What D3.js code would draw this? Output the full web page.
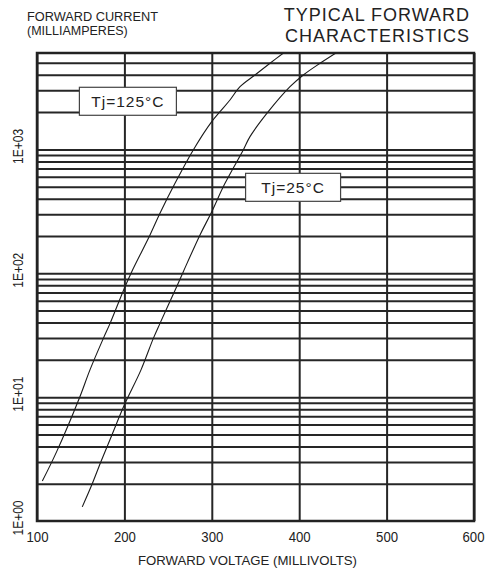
<!DOCTYPE html>
<html>
<head>
<meta charset="utf-8">
<script src="https://cdn.jsdelivr.net/npm/d3@7"></script>
<style>
  body { margin: 0; background: #fff; }
  text { font-family: "Liberation Sans", Arial, sans-serif; fill: #222; }
</style>
</head>
<body>
<div id="chart"></div>
<script>
// forward voltage (mV) and forward current (mA)
var volts125 = [106.1, 122.5, 148.4, 160.6, 175.9, 183.6, 200.7, 208.4, 229.3, 240.7, 257.9, 278.8, 299.9, 309.4, 320.8, 332.3, 349.4, 366.6, 382];
var amps125 = [2.1, 3.63, 9.79, 16.6, 29.8, 39.4, 77.9, 103, 204, 305, 532, 989, 1674, 2015, 2505, 3207, 3988, 4955, 6000];
var volts25 = [151.8, 162.6, 173.1, 185.7, 199.9, 219.0, 233.1, 240.7, 259.8, 267.4, 286.5, 299.1, 315.1, 336.0, 343.7, 364.6, 389.5, 404.7, 423.8, 442];
var amps25 = [1.3, 1.95, 3.01, 4.95, 8.64, 16.6, 29.8, 39.4, 77.9, 103, 204, 305, 532, 989, 1267, 2015, 3207, 3988, 4955, 6000];

var xTicks = [100, 200, 300, 400, 500, 600];
var decades = [1, 10, 100, 1000];
var decadeLabels = ["1E+00", "1E+01", "1E+02", "1E+03"];

var curveLabels = ["Tj=125°C", "Tj=25°C"];
var labelVolts = [204, 393];
var labelAmps = [2445, 494];

var width = 487, height = 571;
var mLeft = 37, mRight = 474, mTop = 53, mBottom = 521;

var svg = d3.select("#chart").append("svg")
    .attr("width", width)
    .attr("height", height);

svg.append("rect").attr("width", width).attr("height", height).attr("fill", "#fff");

var x = d3.scaleLinear().domain([100, 600]).range([mLeft, mRight]);
var y = d3.scaleLog().domain([1, 6000]).range([mBottom, mTop]);

// horizontal log grid lines
var gridValues = [];
decades.forEach(function(d){
    for(var k = 1; k <= 9; k++){
        var v = d * k;
        if(v > 1 && v < 6000) gridValues.push(v);
    }
});

svg.append("g")
    .attr("transform", "translate(" + mLeft + ",0)")
    .call(d3.axisLeft(y).tickValues(gridValues).tickSize(-(mRight - mLeft)).tickFormat(""))
    .call(function(g){
        g.select(".domain").remove();
        g.selectAll("line").attr("stroke", "#262626").attr("stroke-width", 2);
    });

// vertical grid + tick labels
svg.append("g")
    .attr("transform", "translate(0," + mBottom + ")")
    .call(d3.axisBottom(x).tickValues(xTicks).tickSize(-(mBottom - mTop)).tickPadding(0))
    .call(function(g){
        g.select(".domain").remove();
        g.selectAll("line").attr("stroke", "#262626").attr("stroke-width", 2);
        g.selectAll("text")
            .attr("y", 21)
            .attr("dy", 0)
            .attr("font-size", 15)
            .attr("textLength", 22)
            .attr("lengthAdjust", "spacingAndGlyphs")
            .style("font-family", "'Liberation Sans', Arial, sans-serif")
            .attr("fill", "#222");
        g.selectAll(".tick").filter(function(d){ return d === 600; })
            .select("text").attr("x", -1);
    });

// plot border
svg.append("rect")
    .attr("x", mLeft).attr("y", mTop)
    .attr("width", mRight - mLeft).attr("height", mBottom - mTop)
    .attr("fill", "none")
    .attr("stroke", "#222")
    .attr("stroke-width", 2.5);

// decade labels on the y side
svg.selectAll(".ylab")
    .data(decades)
    .enter().append("text")
    .attr("class", "ylab")
    .attr("transform", function(d){ return "translate(23," + (y(d) - 3) + ") rotate(-90)"; })
    .attr("text-anchor", "middle")
    .attr("font-size", 15)
    .attr("textLength", 35)
    .attr("lengthAdjust", "spacingAndGlyphs")
    .text(function(d, i){ return decadeLabels[i]; });

// curves
svg.append("clipPath").attr("id", "plotclip")
    .append("rect")
    .attr("x", mLeft).attr("y", mTop)
    .attr("width", mRight - mLeft).attr("height", mBottom - mTop);

var line = d3.line()
    .x(function(d){ return x(d[0]); })
    .y(function(d){ return y(d[1]); })
    .curve(d3.curveCatmullRom.alpha(0.5));

[[volts125, amps125], [volts25, amps25]].forEach(function(s){
    svg.append("path")
        .datum(d3.zip(s[0], s[1]))
        .attr("clip-path", "url(#plotclip)")
        .attr("d", line)
        .attr("fill", "none")
        .attr("stroke", "#1a1a1a")
        .attr("stroke-width", 1.1);
});

// curve labels in boxes
var boxW = [97, 95], boxH = 28;
curveLabels.forEach(function(t, i){
    var cx = x(labelVolts[i]), cy = y(labelAmps[i]);
    svg.append("rect")
        .attr("x", cx - boxW[i] / 2).attr("y", cy - boxH / 2)
        .attr("width", boxW[i]).attr("height", boxH)
        .attr("fill", "#fff")
        .attr("stroke", "#444")
        .attr("stroke-width", 1.2);
    svg.append("text")
        .attr("x", cx).attr("y", cy + 6)
        .attr("text-anchor", "middle")
        .attr("font-size", 15.5)
        .attr("letter-spacing", 1)
        .attr("fill", "#333")
        .text(t);
});

// titles
svg.append("text").attr("x", 470).attr("y", 21)
    .attr("text-anchor", "end").attr("font-size", 18).attr("letter-spacing", 1)
    .text("TYPICAL FORWARD");
svg.append("text").attr("x", 470).attr("y", 42)
    .attr("text-anchor", "end").attr("font-size", 18).attr("letter-spacing", 1)
    .text("CHARACTERISTICS");

svg.append("text").attr("x", 27).attr("y", 21)
    .attr("font-size", 12.5).attr("textLength", 131).attr("lengthAdjust", "spacingAndGlyphs")
    .text("FORWARD CURRENT");
svg.append("text").attr("x", 27).attr("y", 34.5)
    .attr("font-size", 12.5)
    .text("(MILLIAMPERES)");

svg.append("text").attr("x", (138 + 357) / 2).attr("y", 564.5)
    .attr("text-anchor", "middle").attr("font-size", 13)
    .attr("textLength", 219).attr("lengthAdjust", "spacingAndGlyphs")
    .text("FORWARD VOLTAGE (MILLIVOLTS)");
</script>
</body>
</html>
